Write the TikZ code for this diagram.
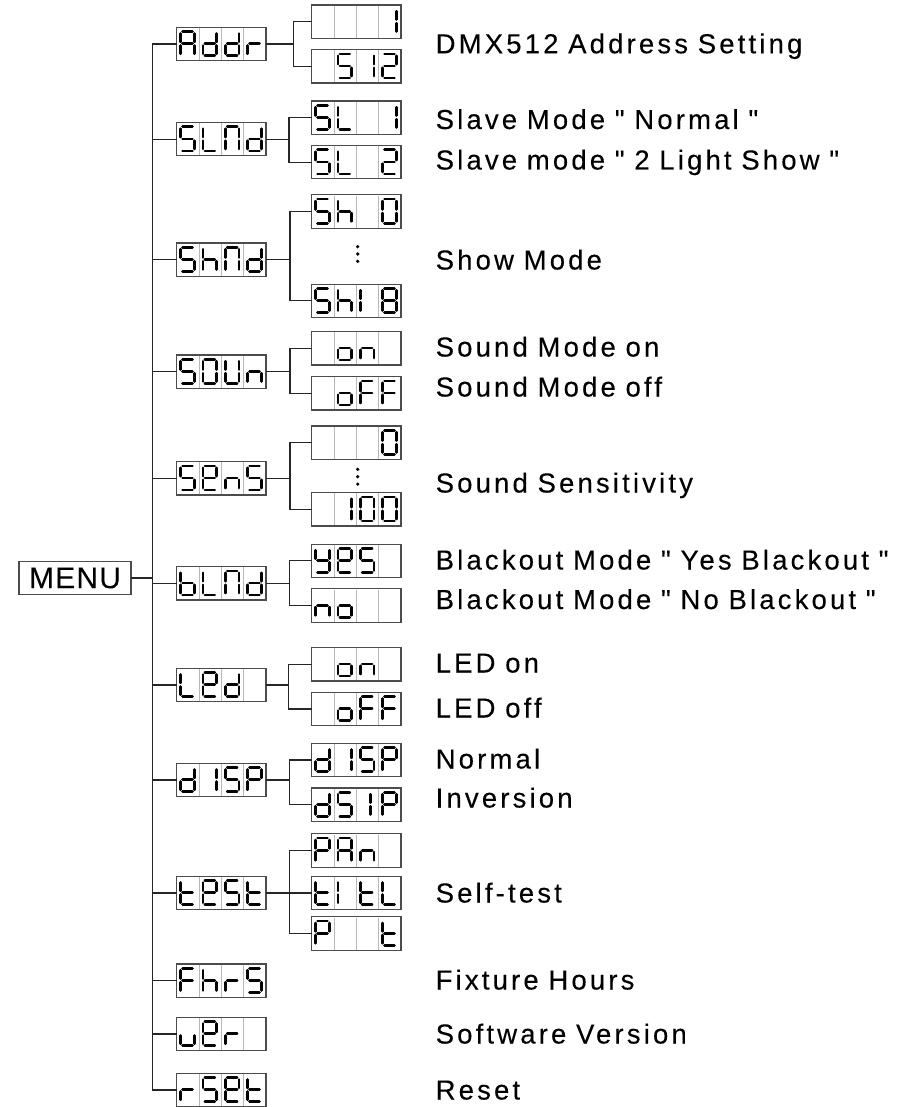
\documentclass[tikz,border=0pt]{standalone}
\usepackage{fontspec}
\setmainfont{Liberation Sans}
\newfontfamily\labfont[LetterSpace=11.5,WordSpace=0.9,FakeBold=0.15]{Liberation Sans}
\newfontfamily\menufont[LetterSpace=4,FakeBold=0.15]{Liberation Sans}
\tikzset{
  dbox/.style={rectangle, draw=black!70, line width=1.1pt, minimum width=89.3pt, minimum height=33.4pt, inner sep=0pt, outer sep=0pt},
  divider/.style={draw=black!28, line width=0.9pt},
  segline/.style={line width=2.6pt, line cap=round, black},
  wire/.style={line width=1.3pt, black!85},
  lab/.style={font={\fontsize{27.5}{32}\selectfont\labfont}, inner sep=0pt, anchor=base west},
  menubox/.style={rectangle, draw=black!70, line width=1.1pt, minimum width=112pt, minimum height=33.4pt, inner sep=0pt, outer sep=0pt, font={\fontsize{30}{34}\selectfont\menufont}},
  vdot/.style={circle, fill=black, inner sep=0pt, minimum size=3.6pt}
}
% segments, relative to cell top-left, y downwards
\def\SEGa{\draw[segline] (5.8,4.3) -- (15.8,4.3);}
\def\SEGb{\draw[segline] (17.7,6.2) -- (17.7,14.6);}
\def\SEGc{\draw[segline] (17.7,18.2) -- (17.7,26.5);}
\def\SEGd{\draw[segline] (5.8,28.4) -- (15.8,28.4);}
\def\SEGe{\draw[segline] (3.9,18.2) -- (3.9,26.5);}
\def\SEGf{\draw[segline] (3.9,6.2) -- (3.9,14.6);}
\def\SEGg{\draw[segline] (5.8,16.4) -- (15.8,16.4);}
\def\SEGi{\draw[segline] (14,6.2) -- (14,14.6);}
\def\SEGj{\draw[segline] (14,18.2) -- (14,26.5);}
% glyphs
\def\gyA{a,b,c,e,f,g}
\def\gyd{b,c,d,e,g}
\def\gyr{e,g}
\def\gyS{a,f,g,c,d}
\def\gyL{f,e,d}
\def\gyN{a,b,c,e,f}
\def\gyh{f,e,g,c}
\def\gyO{a,b,c,d,e,f}
\def\gyU{b,c,d,e,f}
\def\gyn{e,g,c}
\def\gye{a,b,f,g,e,d}
\def\gyb{f,e,d,c,g}
\def\gyI{f,e}
\def\gyone{b,c}
\def\gytwo{a,b,g,e,d}
\def\gyeight{a,b,c,d,e,f,g}
\def\gyt{f,e,g,d}
\def\gyP{a,b,g,f,e}
\def\gyF{a,f,g,e}
\def\gyo{e,g,c,d}
\def\gyy{f,b,g,c,d}
\def\gyu{e,d,c}
\def\gyi{i,j}
\def\gyx{x}
\newcommand\sg[1]{\edef\tmplist{#1}\foreach \s in \tmplist {\csname SEG\s\endcsname}}
\newcommand\dsp[7]{%
  \node[dbox] (#1) at (#2,#3) {};
  \begin{scope}[shift={(#1.north west)}]
    \foreach \k in {1,2,3} \draw[divider] (22.33*\k,0.7) -- (22.33*\k,32.7);
    \begin{scope}[shift={(0,0)}]\sg{#4}\end{scope}
    \begin{scope}[shift={(22.33,0)}]\sg{#5}\end{scope}
    \begin{scope}[shift={(44.66,0)}]\sg{#6}\end{scope}
    \begin{scope}[shift={(66.99,0)}]\sg{#7}\end{scope}
  \end{scope}}
\begin{document}
\begin{tikzpicture}[x=1pt,y=-1pt]
\useasboundingbox (0,0) rectangle (915,1107);
\fill[white] (0,0) rectangle (915,1107);

\node[menubox] (menu) at (75,578) {MENU};

% main column
\dsp{addr}{221.35}{44}{\gyA}{\gyd}{\gyd}{\gyr}
\dsp{slnd}{221.35}{139.2}{\gyS}{\gyL}{\gyN}{\gyd}
\dsp{shnd}{221.35}{259.7}{\gyS}{\gyh}{\gyN}{\gyd}
\dsp{soun}{221.35}{371.7}{\gyS}{\gyO}{\gyU}{\gyn}
\dsp{sens}{221.35}{478.3}{\gyS}{\gye}{\gyn}{\gyS}
\dsp{blnd}{221.35}{583.3}{\gyb}{\gyL}{\gyN}{\gyd}
\dsp{led}{221.35}{685}{\gyL}{\gye}{\gyd}{\gyx}
\dsp{disp}{221.35}{780}{\gyd}{\gyone}{\gyS}{\gyP}
\dsp{test}{221.35}{893}{\gyt}{\gye}{\gyS}{\gyt}
\dsp{fhrs}{221.35}{980.7}{\gyF}{\gyh}{\gyr}{\gyS}
\dsp{uer}{221.35}{1034}{\gyu}{\gye}{\gyr}{\gyx}
\dsp{rset}{221.35}{1090}{\gyr}{\gyS}{\gye}{\gyt}

% sub column
\dsp{a1}{356.35}{21.7}{\gyx}{\gyx}{\gyx}{\gyone}
\dsp{a2}{356.35}{66.3}{\gyx}{\gyS}{\gyone}{\gytwo}
\dsp{s1}{356.35}{117.7}{\gyS}{\gyL}{\gyx}{\gyone}
\dsp{s2}{356.35}{162.2}{\gyS}{\gyL}{\gyx}{\gytwo}
\dsp{h1}{356.35}{211.6}{\gyS}{\gyh}{\gyx}{\gyO}
\dsp{h2}{356.35}{300.8}{\gyS}{\gyh}{\gyI}{\gyeight}
\dsp{o1}{356.35}{348.3}{\gyx}{\gyo}{\gyn}{\gyx}
\dsp{o2}{356.35}{393.3}{\gyx}{\gyo}{\gyF}{\gyF}
\dsp{e1}{356.35}{442.7}{\gyx}{\gyx}{\gyx}{\gyO}
\dsp{e2}{356.35}{509.3}{\gyx}{\gyone}{\gyO}{\gyO}
\dsp{b1}{356.35}{560.8}{\gyy}{\gye}{\gyS}{\gyx}
\dsp{b2}{356.35}{605.6}{\gyn}{\gyo}{\gyx}{\gyx}
\dsp{l1}{356.35}{664.3}{\gyx}{\gyo}{\gyn}{\gyx}
\dsp{l2}{356.35}{709}{\gyx}{\gyo}{\gyF}{\gyF}
\dsp{d1}{356.35}{760}{\gyd}{\gyone}{\gyS}{\gyP}
\dsp{d2}{356.35}{804.7}{\gyd}{\gyS}{\gyi}{\gyP}
\dsp{t1}{356.35}{850.5}{\gyP}{\gyA}{\gyn}{\gyx}
\dsp{t2}{356.35}{893}{\gyt}{\gyI}{\gyt}{\gyL}
\dsp{t3}{356.35}{933.5}{\gyP}{\gyx}{\gyx}{\gyt}

% ellipsis dots
\node[vdot] (hd1) at (357.7,246.7) {};
\node[vdot] (hd2) at (357.7,254) {};
\node[vdot] (hd3) at (357.7,261.3) {};
\node[vdot] (ed1) at (357.7,469.3) {};
\node[vdot] (ed2) at (357.7,476.7) {};
\node[vdot] (ed3) at (357.7,484.1) {};

% trunk
\coordinate (ttop) at (152.3,44);
\coordinate (tbot) at (152.3,1090);
\draw[wire] (ttop) -- (tbot);
\draw[wire] (menu.east) -- (menu.east -| ttop);
\foreach \n in {addr,slnd,shnd,soun,sens,blnd,led,disp,test,fhrs,uer,rset}
  \draw[wire] (\n.west) -- (\n.west -| ttop);

% branches
\path (addr.east) ++(27.3,0) coordinate (baddr);
\draw[wire] (addr.east) -- (baddr);
\draw[wire] (a1.west) -| (baddr) |- (a2.west);
\path (slnd.east) ++(23,0) coordinate (bslnd);
\draw[wire] (slnd.east) -- (bslnd);
\draw[wire] (s1.west) -| (bslnd) |- (s2.west);
\path (shnd.east) ++(24,0) coordinate (bshnd);
\draw[wire] (shnd.east) -- (bshnd);
\draw[wire] (h1.west) -| (bshnd) |- (h2.west);
\path (soun.east) ++(24,0) coordinate (bsoun);
\draw[wire] (soun.east) -- (bsoun);
\draw[wire] (o1.west) -| (bsoun) |- (o2.west);
\path (sens.east) ++(24,0) coordinate (bsens);
\draw[wire] (sens.east) -- (bsens);
\draw[wire] (e1.west) -| (bsens) |- (e2.west);
\path (blnd.east) ++(23.5,0) coordinate (bblnd);
\draw[wire] (blnd.east) -- (bblnd);
\draw[wire] (b1.west) -| (bblnd) |- (b2.west);
\path (led.east) ++(22.8,0) coordinate (bled);
\draw[wire] (led.east) -- (bled);
\draw[wire] (l1.west) -| (bled) |- (l2.west);
\path (disp.east) ++(23.5,0) coordinate (bdisp);
\draw[wire] (disp.east) -- (bdisp);
\draw[wire] (d1.west) -| (bdisp) |- (d2.west);
\path (test.east) ++(23.5,0) coordinate (btest);
\draw[wire] (test.east) -- (t2.west);
\draw[wire] (t1.west) -| (btest) |- (t3.west);

% labels
\node[lab] (L1) at (435.5,53.3) {DMX512 Address Setting};
\node[lab] (L2) at (435.5,129) {Slave Mode " Normal "};
\node[lab] (L3) at (435.5,169.5) {Slave mode " 2 Light Show "};
\node[lab] (L4) at (435.5,269.5) {Show Mode};
\node[lab] (L5) at (435.5,356.5) {Sound Mode on};
\node[lab] (L6) at (435.5,396.5) {Sound Mode off};
\node[lab] (L7) at (435.5,492.5) {Sound Sensitivity};
\node[lab] (L8) at (435.5,569.5) {Blackout Mode " Yes Blackout "};
\node[lab] (L9) at (435.5,609) {Blackout Mode " No Blackout "};
\node[lab] (L10) at (435.5,672.5) {LED on};
\node[lab] (L11) at (435.5,717.5) {LED off};
\node[lab] (L12) at (435.5,768.5) {Normal};
\node[lab] (L13) at (435.5,807.5) {Inversion};
\node[lab] (L14) at (435.5,902.5) {Self-test};
\node[lab] (L15) at (435.5,989.5) {Fixture Hours};
\node[lab] (L16) at (435.5,1043.5) {Software Version};
\node[lab] (L17) at (435.5,1099.5) {Reset};
\end{tikzpicture}
\end{document}
